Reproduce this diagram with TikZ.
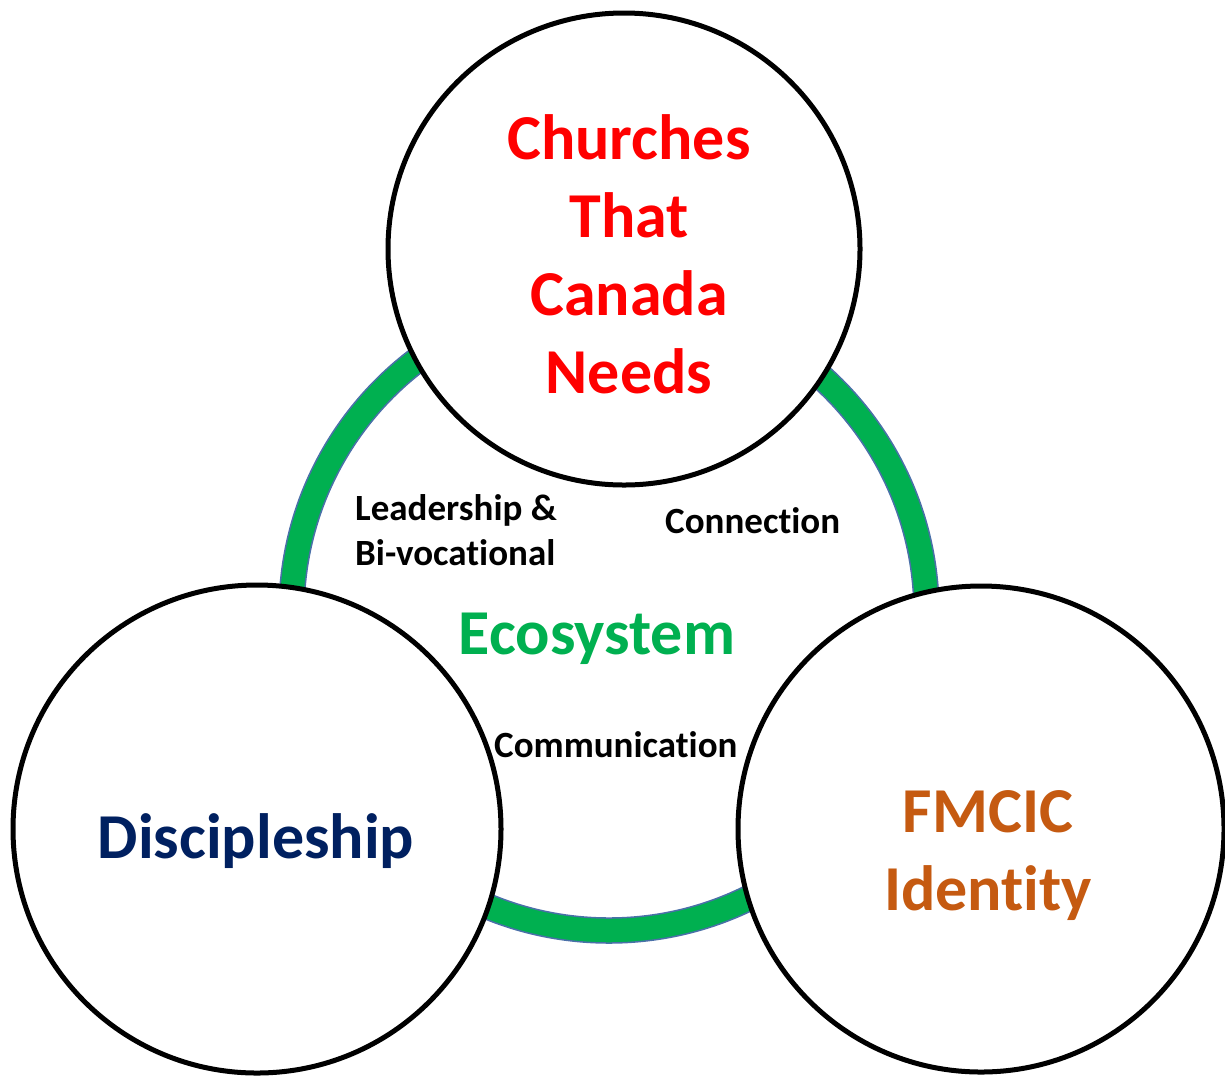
\documentclass[tikz,border=0pt]{standalone}
\usepackage{fontspec}
\setmainfont{Carlito}[Ligatures=NoCommon]
\definecolor{ecogreen}{HTML}{00B050}
\definecolor{ringedge}{HTML}{4A70A8}
\definecolor{churchred}{HTML}{FF0000}
\definecolor{discblue}{HTML}{002060}
\definecolor{idorange}{HTML}{C55A11}

\tikzset{
    pillar/.style={circle, draw=black, line width=5pt, fill=white, inner sep=0pt},
    bigtext/.style={font=\fontsize{64}{78}\selectfont\bfseries, align=center, inner sep=0pt},
    smalltext/.style={font=\fontsize{37}{45}\selectfont\bfseries, align=left, inner sep=0pt},
}

\begin{document}
\begin{tikzpicture}[x=1pt,y=-1pt]
    \useasboundingbox (0,0) rectangle (1225,1080);

    % Ecosystem ring
    \coordinate (ring) at (609,613);
    \filldraw[fill=ecogreen, draw=ringedge, line width=1.5pt, even odd rule]
        (ring) circle (330pt) (ring) circle (305pt);

    % Three circles
    \node[pillar, minimum size=472pt] (churches) at (624,249) {};
    \node[pillar, minimum size=488pt] (disciples) at (257,829) {};
    \node[pillar, minimum size=486pt] (identity) at (981,829) {};

    % Circle texts
    \node[bigtext, text=churchred] (churchestext) at (629,254) {Churches\\That\\Canada\\Needs};
    \node[bigtext, text=discblue, anchor=base] (disciplestext) at (256,858) {Discipleship};
    \node[bigtext, text=idorange] (identitytext) at (988,856) {FMCIC\\Identity};

    % Middle texts
    \node[bigtext, text=ecogreen, font=\fontsize{64}{70}\selectfont\bfseries, anchor=base] (eco) at (597,654) {Ecosystem};
    \node[smalltext, anchor=west] (leadership) at (355,530) {Leadership \&\\Bi-vocational};
    \node[smalltext, anchor=base west] (connection) at (665,533) {Connection};
    \node[smalltext, anchor=base west] (communication) at (494,757) {Communication};
\end{tikzpicture}
\end{document}
